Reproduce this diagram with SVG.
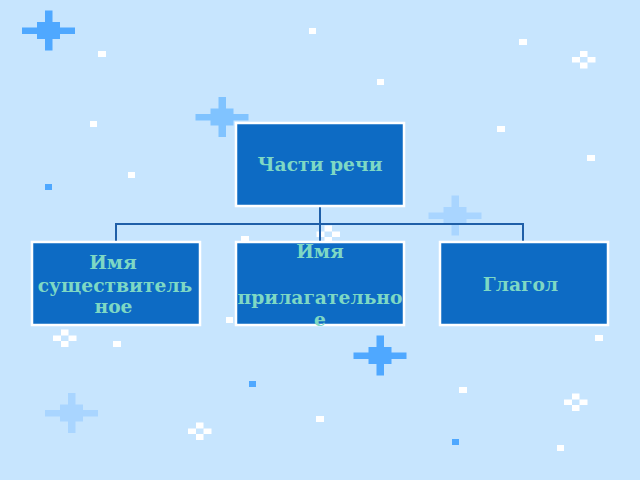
<svg xmlns="http://www.w3.org/2000/svg" xmlns:xlink="http://www.w3.org/1999/xlink" width="640" height="480" viewBox="0 0 640 480">
<style>
.node rect { fill: #0D6BC4; stroke: #FFFFFF; stroke-width: 2.5; }
.node text { font-family: "DejaVu Serif", "Liberation Serif", serif; font-weight: bold; font-size: 18.7px; fill: #7ED8C4; text-anchor: middle; }
.conn { fill: none; stroke: #1F5FA8; stroke-width: 2; }
.w { fill: #FFFFFF; }
.b { fill: #4FA8FF; }
</style>
<defs>
<g id="star">
<rect x="-3.5" y="-20" width="7.5" height="40"/>
<rect x="-26.5" y="-3" width="53" height="6.5"/>
<rect x="-11.5" y="-8.5" width="23" height="17"/>
</g>
<g id="flake">
<rect x="-3.5" y="-8.5" width="7.5" height="6"/>
<rect x="-11.5" y="-2.5" width="8" height="5.5"/>
<rect x="4" y="-2.5" width="8" height="5.5"/>
<rect x="-3.5" y="3" width="7.5" height="6"/>
</g>
</defs>
<rect x="0" y="0" width="640" height="480" fill="#C7E5FE"/>
<g id="decor">
<use xlink:href="#star" x="48.5" y="30.5" fill="#4FA8FF"/>
<use xlink:href="#star" x="222" y="117" fill="#80C3FF"/>
<use xlink:href="#star" x="455" y="215.5" fill="#A9D5FF"/>
<use xlink:href="#star" x="380" y="355.5" fill="#4FA8FF"/>
<use xlink:href="#star" x="71.5" y="413" fill="#A9D5FF"/>
<use xlink:href="#flake" x="583.5" y="59.5" fill="#FFFFFF"/>
<use xlink:href="#flake" x="328" y="234" fill="#FFFFFF"/>
<use xlink:href="#flake" x="64.5" y="338" fill="#FFFFFF"/>
<use xlink:href="#flake" x="199.5" y="431" fill="#FFFFFF"/>
<use xlink:href="#flake" x="575.5" y="402" fill="#FFFFFF"/>
<rect class="w" x="98" y="51" width="8" height="6"/>
<rect class="w" x="309" y="28" width="7" height="6"/>
<rect class="w" x="519" y="39" width="8" height="6"/>
<rect class="w" x="377" y="79" width="7" height="6"/>
<rect class="w" x="90" y="121" width="7" height="6"/>
<rect class="w" x="497" y="126" width="8" height="6"/>
<rect class="w" x="587" y="155" width="8" height="6"/>
<rect class="w" x="128" y="172" width="7" height="6"/>
<rect class="w" x="241" y="236" width="8" height="6"/>
<rect class="w" x="226" y="317" width="7" height="6"/>
<rect class="w" x="113" y="341" width="8" height="6"/>
<rect class="w" x="595" y="335" width="8" height="6"/>
<rect class="w" x="459" y="387" width="8" height="6"/>
<rect class="w" x="557" y="445" width="7" height="6"/>
<rect class="w" x="316" y="416" width="8" height="6"/>
<rect class="b" x="45" y="184" width="7" height="6"/>
<rect class="b" x="249" y="381" width="7" height="6"/>
<rect class="b" x="452" y="439" width="7" height="6"/>
</g>
<g id="connectors">
<path class="conn" d="M320 206 V224 M116 242 V224 H523 V242 M320 224 V242"/>
</g>
<g id="node-root" class="node">
<rect x="236" y="123" width="168" height="83"/>
<text x="320" y="171">Части речи</text>
</g>
<g id="node-noun" class="node">
<rect x="32" y="242" width="168" height="83"/>
<text x="113" y="269">Имя</text>
<text x="115" y="292">существитель</text>
<text x="113.5" y="313">ное</text>
</g>
<g id="node-adj" class="node">
<rect x="236" y="242" width="168" height="83"/>
<text x="320" y="258">Имя</text>
<text x="320" y="304">прилагательно</text>
<text x="320" y="326">е</text>
</g>
<g id="node-verb" class="node">
<rect x="440" y="242" width="168" height="83"/>
<text x="520.5" y="291">Глагол</text>
</g>
</svg>
